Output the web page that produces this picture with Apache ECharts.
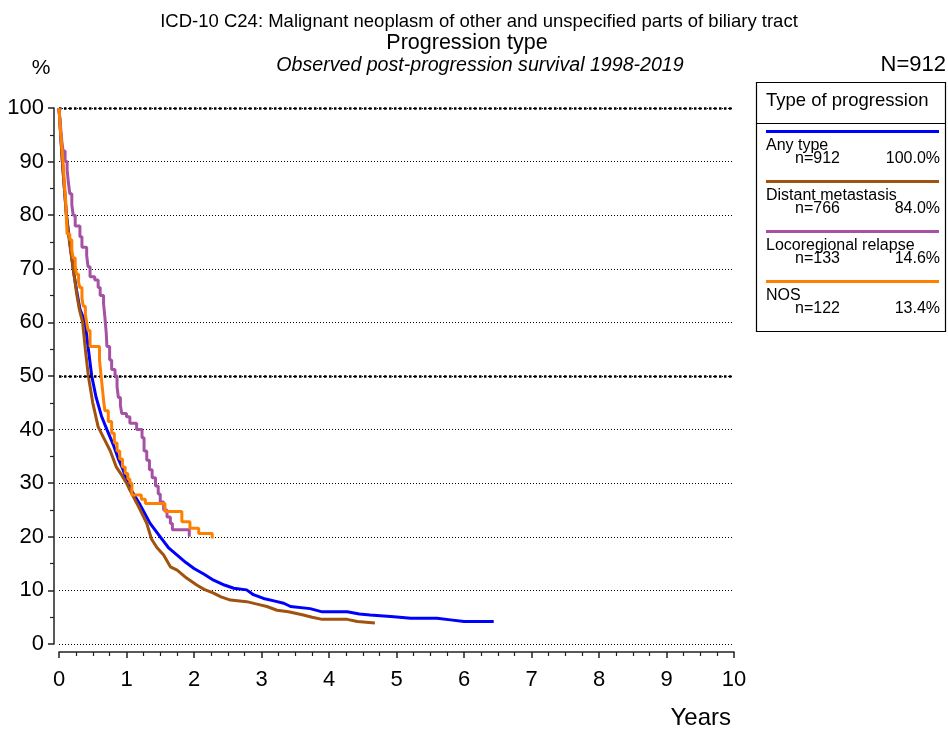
<!DOCTYPE html>
<html>
<head>
<meta charset="utf-8">
<script src="https://cdn.jsdelivr.net/npm/echarts@6/dist/echarts.min.js"></script>
<style>
  html, body { margin: 0; padding: 0; background: #fff; }
  #survival { width: 948px; height: 729px; }
</style>
</head>
<body>
<div id="survival"></div>
<script>
// [years, percent surviving]
var anyType = [[0,100],[0.02,96],[0.05,90],[0.08,85],[0.11,80],[0.16,75],[0.21,70],[0.26,66],[0.31,62.5],[0.386,60],
  [0.43,55.5],[0.485,50],[0.55,46],[0.63,42.5],[0.71,40],[0.81,37],[0.88,34.5],[0.95,32.5],[1.0,30.6],[1.08,28.5],
  [1.2,26],[1.35,22.5],[1.5,20],[1.62,18],[1.75,16.6],[1.88,15.2],[2.0,14.1],[2.15,13],[2.29,11.9],[2.45,11],
  [2.59,10.4],[2.78,10.1],[2.88,9.2],[3.03,8.5],[3.2,8.0],[3.33,7.6],[3.43,7.0],[3.72,6.6],[3.9,6.0],[4.27,6.0],
  [4.45,5.6],[4.61,5.4],[4.96,5.1],[5.21,4.8],[5.6,4.8],[5.8,4.5],[6.0,4.2],[6.44,4.2]]

var distantMetastasis = [[0,100],[0.02,96],[0.05,90],[0.08,85],[0.11,80],[0.16,74.5],[0.21,70],[0.26,65.5],[0.3,62.5],
  [0.35,60],[0.39,55],[0.435,50],[0.5,45],[0.58,40.5],[0.66,38.5],[0.76,36],[0.85,33],[0.93,31.5],[1.0,30],
  [1.05,28.7],[1.18,25.6],[1.3,22.5],[1.37,19.6],[1.45,18],[1.55,16.6],[1.65,14.4],[1.75,13.8],[1.89,12.3],[2.04,11],
  [2.15,10.2],[2.29,9.5],[2.4,8.8],[2.54,8.2],[2.78,7.9],[2.98,7.3],[3.08,7.0],[3.23,6.3],[3.4,6.0],[3.62,5.4],
  [3.75,5.0],[3.9,4.6],[4.27,4.6],[4.42,4.2],[4.68,3.9]]

var locoregional = [[0,100],[0.02,97],[0.04,94],[0.06,92],[0.09,90],[0.12,88.5],[0.14,86],[0.16,84],[0.19,82],[0.21,80],
  [0.24,78],[0.31,76],[0.34,74],[0.41,72.5],[0.43,70.4],[0.46,68.5],[0.53,67.9],[0.58,66.5],[0.61,65],[0.66,63.5],
  [0.68,61],[0.7,58],[0.71,55.5],[0.75,53],[0.78,51.2],[0.83,50],[0.86,48],[0.88,46],[0.91,44.5],[0.93,43],
  [1.0,42.4],[1.05,41.2],[1.15,40],[1.23,38.5],[1.26,36],[1.3,34.3],[1.34,32.5],[1.38,31],[1.43,29.5],[1.47,28],
  [1.5,26.5],[1.55,25],[1.6,23.7],[1.65,22.5],[1.68,21.3],[1.93,20]]

var nos = [[0,100],[0.02,96],[0.04,93],[0.06,90],[0.08,86],[0.1,82.5],[0.11,79],[0.12,76.5],[0.16,75.4],[0.19,73.5],
  [0.21,72],[0.24,70.5],[0.26,69],[0.29,67.5],[0.31,66.5],[0.34,64.5],[0.36,63],[0.39,61.5],[0.41,60],[0.43,58.5],
  [0.46,55.5],[0.6,53],[0.62,50.5],[0.64,48],[0.66,45.5],[0.68,43.5],[0.73,41.5],[0.78,39.3],[0.82,37.5],[0.86,36],
  [0.9,34.5],[0.94,33],[0.98,31.8],[1.02,30.8],[1.05,30],[1.08,27.8],[1.22,27],[1.28,26.2],[1.57,24.7],[1.82,22.8],
  [1.94,21.6],[2.07,20.6],[2.27,19.7]]

var seriesNames = ['Any type', 'Distant metastasis', 'Locoregional relapse', 'NOS']
var seriesCounts = ['n=912', 'n=766', 'n=133', 'n=122']
var seriesShares = ['100.0%', '84.0%', '14.6%', '13.4%']
var seriesColors = ['#0000ff', '#a0520f', '#a552a5', '#ff8000']
var seriesData = [anyType, distantMetastasis, locoregional, nos]
var seriesStep = [false, false, 'end', 'end']

var titleLines = ['ICD-10 C24: Malignant neoplasm of other and unspecified parts of biliary tract',
  'Progression type', 'Observed post-progression survival 1998-2019']
var totalLabel = 'N=912'
var legendTitle = 'Type of progression'

var FONT = '"Liberation Sans", Arial, sans-serif'

var chart = echarts.init(document.getElementById('survival'))

var series = seriesData.map(function (d, i) {
  return {
    name: seriesNames[i],
    type: 'line',
    data: d,
    step: seriesStep[i],
    showSymbol: false,
    silent: true,
    lineStyle: { color: seriesColors[i], width: 3 },
    z: 3 + i
  }
})
// heavier dotted lines at 50% and 100%
series[0].markLine = {
  silent: true,
  symbol: 'none',
  label: { show: false },
  lineStyle: { color: '#000', width: 2.5, type: [2.5, 2.5] },
  data: [{ yAxis: 50 }, { yAxis: 100 }]
}

// legend box drawn by hand
var legendItems = [
  { type: 'rect', shape: { x: 756.5, y: 82.5, width: 189, height: 249 }, style: { fill: '#fff', stroke: '#000', lineWidth: 1.2 } },
  { type: 'line', shape: { x1: 756, y1: 123.5, x2: 946, y2: 123.5 }, style: { stroke: '#000', lineWidth: 1 } },
  { type: 'text', x: 766, y: 101, style: { text: legendTitle, font: '18.5px ' + FONT, fill: '#000', verticalAlign: 'middle' } }
]
seriesNames.forEach(function (name, i) {
  var y0 = 131.5 + i * 50
  legendItems.push(
    { type: 'line', shape: { x1: 766, y1: y0, x2: 939, y2: y0 }, style: { stroke: seriesColors[i], lineWidth: 3 } },
    { type: 'text', x: 766, y: y0 + 14, style: { text: name, font: '16px ' + FONT, fill: '#000', verticalAlign: 'middle' } },
    { type: 'text', x: 795, y: y0 + 27.5, style: { text: seriesCounts[i], font: '16px ' + FONT, fill: '#000', verticalAlign: 'middle' } },
    { type: 'text', x: 940, y: y0 + 27.5, style: { text: seriesShares[i], font: '16px ' + FONT, fill: '#000', align: 'right', verticalAlign: 'middle' } }
  )
})

var option = {
  animation: false,
  backgroundColor: '#fff',
  grid: { left: 59, right: 214, top: 108, bottom: 85, containLabel: false },
  xAxis: {
    type: 'value',
    min: 0,
    max: 10,
    interval: 1,
    offset: 8,
    axisLine: { show: true, onZero: false, lineStyle: { color: '#222', width: 1.5 } },
    axisTick: { show: true, length: 6, lineStyle: { color: '#222', width: 1.5 } },
    minorTick: { show: true, splitNumber: 4, length: 4, lineStyle: { color: '#222', width: 1.2 } },
    axisLabel: { color: '#000', fontSize: 22, fontFamily: FONT, margin: 17 },
    splitLine: { show: false }
  },
  yAxis: {
    type: 'value',
    min: 0,
    max: 100,
    interval: 10,
    offset: 5,
    axisLine: { show: true, onZero: false, lineStyle: { color: '#222', width: 1.5 } },
    axisTick: { show: true, length: 6, lineStyle: { color: '#222', width: 1.5 } },
    minorTick: { show: true, splitNumber: 2, length: 4, lineStyle: { color: '#222', width: 1.2 } },
    axisLabel: { color: '#000', fontSize: 22, fontFamily: FONT, margin: 10 },
    splitLine: {
      show: true,
      lineStyle: { color: '#000', width: 1, type: [1, 2] }
    }
  },
  series: series,
  graphic: [
    { type: 'text', x: 479, y: 22, style: { text: titleLines[0], font: '18.5px ' + FONT, fill: '#000', align: 'center', verticalAlign: 'middle' } },
    { type: 'text', x: 467, y: 43, style: { text: titleLines[1], font: '21.5px ' + FONT, fill: '#000', align: 'center', verticalAlign: 'middle' } },
    { type: 'text', x: 480, y: 66, style: { text: titleLines[2], font: 'italic 19.6px ' + FONT, fill: '#000', align: 'center', verticalAlign: 'middle' } },
    { type: 'text', x: 41, y: 68, style: { text: '%', font: '21px ' + FONT, fill: '#000', align: 'center', verticalAlign: 'middle' } },
    { type: 'text', x: 946, y: 65, style: { text: totalLabel, font: '22px ' + FONT, fill: '#000', align: 'right', verticalAlign: 'middle' } },
    { type: 'text', x: 731, y: 718, style: { text: 'Years', font: '24px ' + FONT, fill: '#000', align: 'right', verticalAlign: 'middle' } }
  ].concat(legendItems)
}

chart.setOption(option)
window.addEventListener('resize', function () {
  chart.resize()
})
</script>
</body>
</html>
